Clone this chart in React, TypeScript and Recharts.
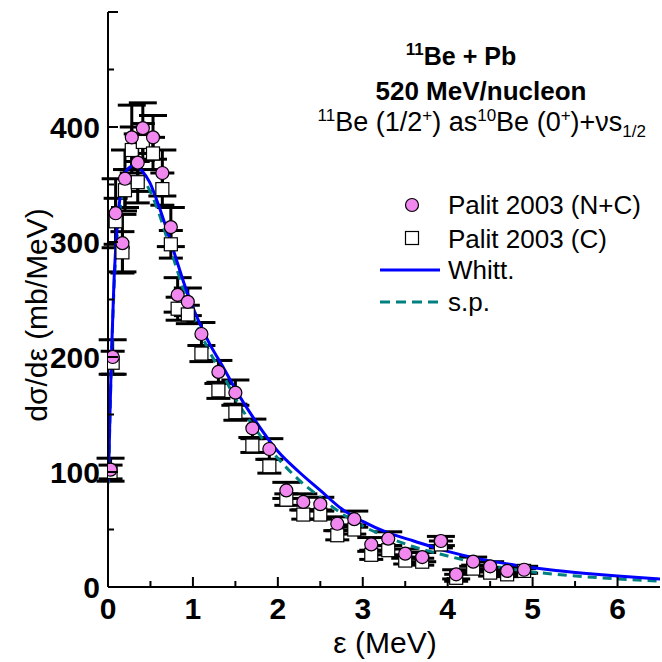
import React from "react";
import { ComposedChart, Scatter, Line, XAxis, YAxis, ErrorBar } from "recharts";

// Palit 2003 data
const energies = [0.03, 0.055, 0.09, 0.17, 0.2, 0.28, 0.35, 0.41, 0.53, 0.64, 0.74, 0.82, 0.94, 1.1, 1.3, 1.5, 1.7, 1.9, 2.1, 2.3, 2.5, 2.7, 2.9, 3.1, 3.3, 3.5, 3.7, 3.92, 4.1, 4.3, 4.5, 4.7, 4.9];
const sigmaNC = [102, 200, 325, 299, 355, 391, 369, 399, 391, 360, 313, 254, 248, 220, 187, 169, 138, 120, 84, 74, 72, 55, 59, 37, 42, 29, 26, 40, 11, 22, 18, 14, 15];
const errNC = [10, 15, 30, 25, 25, 28, 25, 22, 19, 20, 17, 15, 12, 10, 10, 11, 8, 9, 7, 7, 6, 6, 7, 6, 6, 4, 4, 4, 4, 4, 4, 3, 3];
const sigmaC = [100, 195, 318, 291, 345, 380, 352, 387, 377, 346, 298, 242, 237, 203, 171, 152, 123, 105, 76, 63, 63, 45, 50, 28, 32, 23, 22, 37, 8, 16, 12.5, 11, 14];
const errC = [6, 10, 20, 18, 18, 20, 18, 16, 14, 14, 12, 10, 8, 7, 7, 7, 6, 6, 5, 4, 4, 4, 4, 4, 4, 3, 3, 3, 3, 3, 3, 2, 2];

// calculations
const curveE = [0.005, 0.02, 0.04, 0.07, 0.1, 0.14, 0.18, 0.24, 0.32, 0.4, 0.49, 0.6, 0.7, 0.8, 0.9, 1.0, 1.1, 1.2, 1.35, 1.5, 1.75, 2.0, 2.25, 2.5, 2.75, 3.0, 3.3, 3.6, 4.0, 4.4, 4.8, 5.2, 5.6, 6.0, 6.5];
const whitt = [92, 140, 200, 265, 305, 338, 356, 364, 367, 362, 352, 331, 309, 286, 263, 243, 226, 211, 192, 172, 143, 118, 100, 84, 68, 57, 47, 40, 31, 24, 19, 15, 12, 9.5, 7];
const sp = [90, 137, 195, 258, 297, 328, 345, 354, 357, 355, 345, 325, 302, 279, 256, 236, 219, 204, 185, 164, 136, 112, 93, 78, 64, 53, 43, 35, 27, 20, 15, 11.5, 9, 7, 5];

const xTicks = [0, 0.5, 1, 1.5, 2, 2.5, 3, 3.5, 4, 4.5, 5, 5.5, 6];
const yTicks = [0, 50, 100, 150, 200, 250, 300, 350, 400, 450, 500];

const ncData = energies.map((x, i) => ({ x, y: sigmaNC[i], err: errNC[i] }));
const cData = energies.map((x, i) => ({ x, y: sigmaC[i], err: errC[i] }));
const whittData = curveE.map((x, i) => ({ x, y: whitt[i] }));
const spData = curveE.map((x, i) => ({ x, y: sp[i] }));

const FONT = "'Liberation Sans', Arial, sans-serif";
const PINK = "#f088f0";
const BLUE = "#0000ff";
const TEAL = "#008080";

const isMajorX = (v: number) => Number.isInteger(v);
const isMajorY = (v: number) => v % 100 === 0;

const BottomTick = (p: any) => {
  const v = p.payload.value;
  const major = isMajorX(v);
  return (
    <g>
      <line x1={p.x} x2={p.x} y1={p.y} y2={p.y - (major ? 10 : 6)} stroke="#000" strokeWidth={2} />
      {major && (
        <text x={p.x} y={p.y + 32} textAnchor="middle" fontFamily={FONT} fontWeight="bold" fontSize={30} fill="#000">
          {v}
        </text>
      )}
    </g>
  );
};

const TopTick = (p: any) => {
  const major = isMajorX(p.payload.value);
  return <line x1={p.x} x2={p.x} y1={p.y} y2={p.y + (major ? 10 : 6)} stroke="#000" strokeWidth={2} />;
};

const LeftTick = (p: any) => {
  const v = p.payload.value;
  const major = isMajorY(v);
  return (
    <g>
      <line x1={p.x} x2={p.x + (major ? 10 : 6)} y1={p.y} y2={p.y} stroke="#000" strokeWidth={2} />
      {major && v < 500 && (
        <text x={p.x - 8} y={p.y + 11} textAnchor="end" fontFamily={FONT} fontWeight="bold" fontSize={30} fill="#000">
          {v}
        </text>
      )}
    </g>
  );
};

const RightTick = (p: any) => {
  const major = isMajorY(p.payload.value);
  return <line x1={p.x} x2={p.x - (major ? 10 : 6)} y1={p.y} y2={p.y} stroke="#000" strokeWidth={2} />;
};

const CircleDot = (p: any) => (
  <circle cx={p.cx} cy={p.cy} r={6.5} fill={PINK} stroke="#000" strokeWidth={1.2} />
);
const SquareDot = (p: any) => (
  <rect x={p.cx - 6.5} y={p.cy - 6.5} width={13} height={13} fill="#fff" stroke="#000" strokeWidth={1.2} />
);

const axisLine = { stroke: "#000", strokeWidth: 2 };

export default function App() {
  return (
    <div style={{ position: "absolute", left: 0, top: 0, width: 662, height: 662, background: "#fff" }}>
      <ComposedChart width={662} height={662} margin={{ top: 12, right: 2, bottom: 0, left: 0 }}>
        <XAxis
          xAxisId="b"
          dataKey="x"
          type="number"
          domain={[0, 6.5]}
          ticks={xTicks}
          interval={0}
          height={75}
          tickSize={0}
          tickMargin={0}
          tickLine={false}
          axisLine={axisLine}
          tick={BottomTick}
          allowDataOverflow
        />
        <XAxis
          xAxisId="t"
          orientation="top"
          type="number"
          domain={[0, 6.5]}
          ticks={xTicks}
          interval={0}
          height={0}
          tickSize={0}
          tickMargin={0}
          tickLine={false}
          axisLine={axisLine}
          tick={TopTick}
        />
        <YAxis
          yAxisId="l"
          type="number"
          domain={[0, 500]}
          ticks={yTicks}
          interval={0}
          width={108}
          tickSize={0}
          tickMargin={0}
          tickLine={false}
          axisLine={axisLine}
          tick={LeftTick}
          allowDataOverflow
        />
        <YAxis
          yAxisId="r"
          orientation="right"
          type="number"
          domain={[0, 500]}
          ticks={yTicks}
          interval={0}
          width={0}
          tickSize={0}
          tickMargin={0}
          tickLine={false}
          axisLine={axisLine}
          tick={RightTick}
        />
        <Scatter xAxisId="b" yAxisId="l" name="Palit 2003 (C)" data={cData} dataKey="y" shape={SquareDot} isAnimationActive={false}>
          <ErrorBar dataKey="err" direction="y" width={12} stroke="#000" strokeWidth={3} style={{ strokeWidth: 3 }} />
        </Scatter>
        <Scatter xAxisId="b" yAxisId="l" name="Palit 2003 (N+C)" data={ncData} dataKey="y" shape={CircleDot} isAnimationActive={false}>
          <ErrorBar dataKey="err" direction="y" width={14} stroke="#000" strokeWidth={3} style={{ strokeWidth: 3 }} />
        </Scatter>
        <Line xAxisId="b" yAxisId="l" data={spData} dataKey="y" type="monotone" stroke={TEAL} strokeWidth={3} strokeDasharray="9 6" dot={false} isAnimationActive={false} />
        <Line xAxisId="b" yAxisId="l" data={whittData} dataKey="y" type="monotone" stroke={BLUE} strokeWidth={3} dot={false} isAnimationActive={false} />
      </ComposedChart>

      <svg width={662} height={662} style={{ position: "absolute", left: 0, top: 0, pointerEvents: "none" }} fontFamily={FONT}>
        {/* axis titles */}
        <text x={385} y={653} textAnchor="middle" fontSize={30}>ε (MeV)</text>
        <text x={47} y={315} textAnchor="middle" fontSize={30} transform="rotate(-90 47 315)">dσ/dε (mb/MeV)</text>

        {/* annotation */}
        <text x={461} y={65} textAnchor="middle" fontSize={25} fontWeight="bold">
          <tspan fontSize={17} dy={-10}>11</tspan>
          <tspan dy={10}>Be + Pb</tspan>
        </text>
        <text x={481} y={100} textAnchor="middle" fontSize={26} fontWeight="bold">520 MeV/nucleon</text>
        <text x={646} y={131} textAnchor="end" fontSize={27}>
          <tspan fontSize={17} dy={-10}>11</tspan>
          <tspan dy={10}>Be (1/2</tspan>
          <tspan fontSize={17} dy={-10}>+</tspan>
          <tspan dy={10}>) as</tspan>
          <tspan fontSize={17} dy={-10}>10</tspan>
          <tspan dy={10}>Be (0</tspan>
          <tspan fontSize={17} dy={-10}>+</tspan>
          <tspan dy={10}>)+νs</tspan>
          <tspan fontSize={17} dy={6}>1/2</tspan>
        </text>

        {/* legend */}
        <circle cx={412} cy={205} r={6.5} fill={PINK} stroke="#000" strokeWidth={1.2} />
        <text x={448} y={214} fontSize={26}>Palit 2003 (N+C)</text>
        <rect x={405.5} y={231.5} width={13} height={13} fill="#fff" stroke="#000" strokeWidth={1.2} />
        <text x={448} y={248} fontSize={26}>Palit 2003 (C)</text>
        <line x1={380} x2={440} y1={270} y2={270} stroke={BLUE} strokeWidth={3} />
        <text x={448} y={279} fontSize={26}>Whitt.</text>
        <line x1={380} x2={440} y1={302} y2={302} stroke={TEAL} strokeWidth={3} strokeDasharray="10 6" />
        <text x={448} y={311} fontSize={26}>s.p.</text>
      </svg>
    </div>
  );
}
